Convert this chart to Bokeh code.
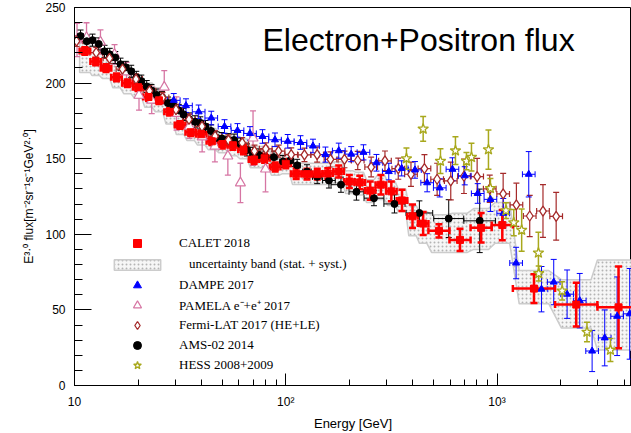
import numpy as np
from bokeh.plotting import figure
from bokeh.models import (ColumnDataSource, Whisker, TeeHead, Legend, LegendItem,
                          Label, FixedTicker, SingleIntervalTicker, Range1d)
from bokeh.embed import file_html
from bokeh.resources import INLINE

# ---------------- data ----------------
# CALET 2018: energy [GeV], E^3 flux, flux error, half bin width [decades]
calet_e = [11.2, 12.6, 14.1, 15.8, 17.8, 20.0, 22.4, 25.1, 28.2, 31.6, 35.5, 39.8, 44.7,
           50.1, 56.2, 63.1, 70.8, 79.4, 89.1, 100, 112, 126, 141, 158, 178, 200, 224,
           251, 282, 316, 355, 398, 447, 531, 668, 841, 1059, 1496, 2371, 3760]
calet_f = [221.2, 214.3, 209.9, 203.8, 199.9, 197.3, 190.8, 188.6, 181.0, 172.3, 167.5,
           166.2, 161.5, 159.7, 158.9, 156.0, 149.5, 150.3, 144.5, 146.7, 140.0, 139.8,
           139.8, 140.2, 141.5, 134.9, 134.3, 128.9, 132.8, 128.4, 122.4, 111.9, 107.1,
           102.3, 96.3, 104.3, 106.1, 64.1, 53.5, 51.7]
calet_ferr = [2.5, 2.5, 2.5, 2.5, 2.5, 2.5, 2.5, 2.5, 2.5, 2.5, 2.5, 2.5, 2.5, 3, 3, 3, 3,
              3, 3, 3, 3.5, 3.5, 3.5, 3.5, 4, 4.3, 4.5, 6, 6.5, 6.5, 7, 7.8, 7.6, 4.4, 7.3,
              9.8, 10, 9.5, 14.5, 27]
calet_hw = [0.025, 0.025, 0.025, 0.025, 0.025, 0.025, 0.025, 0.025, 0.025, 0.025, 0.025,
            0.025, 0.025, 0.025, 0.025, 0.025, 0.025, 0.025, 0.025, 0.025, 0.025, 0.025,
            0.025, 0.025, 0.025, 0.025, 0.025, 0.025, 0.025, 0.025, 0.025, 0.025, 0.025,
            0.05, 0.05, 0.05, 0.05, 0.1, 0.1, 0.1]
# CALET uncertainty band (stat. + syst.), lower / upper edge per CALET bin
band_lo = [207, 205, 203, 197, 193, 190, 184, 181, 173, 166, 162, 159, 156, 154, 152, 150,
           144, 144, 139, 140, 133, 133, 133, 133, 134, 127, 126, 121, 123, 119, 115, 99,
           94, 88, 88, 90, 94, 54, 38, 23.5]
band_hi = [229, 224, 219, 213, 209, 205, 200, 197, 190, 182, 176, 174, 170, 167, 166, 163,
           158, 158, 152, 153, 147, 147, 147, 147, 148, 142, 141, 136, 139, 135, 130, 119,
           115, 113, 114, 117, 121, 76, 70, 83]

# DAMPE 2017
dampe_e = [29.5, 33.7, 38.7, 44.4, 51.3, 59.1, 67.7, 77.6, 88.9, 102.2, 117.4, 134.5,
           154.1, 178.2, 204, 233.2, 268.7, 307.3, 353.7, 408.8, 467, 535.6, 615.1, 703.3,
           810.3, 930.5, 1070, 1231, 1413, 1623, 1855, 2146, 2463, 2819, 3234, 3702, 4246]
dampe_f = [188.6, 185.1, 181.0, 176.9, 171.3, 168.7, 166.7, 164.7, 162.5, 161.5, 160.7,
           158.4, 152.7, 155.3, 153.0, 154.2, 147.3, 141.5, 143.6, 142.6, 134.1, 130.7,
           143.0, 138.7, 127.0, 123.1, 113.9, 81.0, 139.7, 63.7, 68.4, 60.4, 56.1, 22.8,
           31.5, 45.8, 47.4]
dampe_ferr = [4.5, 4.5, 4.5, 4.5, 4.5, 4.5, 4.5, 4.5, 4.5, 4.5, 4.5, 4.5, 5, 5, 5, 5, 5.5,
              5.5, 5, 5.5, 6, 6, 7.6, 6, 6.5, 8, 9.8, 10.4, 15, 15, 15, 16, 18, 13.6, 18.5,
              26, 30]
dampe_hw = [0.03] * 37

# PAMELA e- + e+ 2017
pamela_e = [10.28, 11.4, 13.27, 15.47, 17.63, 20.2, 23.2, 26.6, 30.4, 35.0, 40.2, 46.2,
            53.2, 61.0, 70.0, 80.2]
pamela_f = [228.5, 230.1, 227.2, 219.0, 207.3, 191.9, 188.6, 197.3, 179.9, 171.4, 164.3,
            158.2, 151.7, 134.0, 163.6, 143.1]
pamela_ferr = [11, 9.8, 8, 6.5, 6.5, 9.8, 8.8, 11, 11, 8, 9.8, 10.3, 12.5, 13, 18, 15]

# Fermi-LAT 2017 (HE+LE)
fermi_e = [10.22, 12.67, 14.64, 16.87, 19.55, 22.64, 26.09, 30.22, 34.83, 40.13, 46.29,
           53.56, 62.2, 71.1, 80.4, 92.4, 106.1, 122.6, 140.8, 162.8, 189.6, 219.1, 253.7,
           294.8, 340.8, 391.4, 453.3, 520.6, 603.9, 697.4, 805, 923.5, 1069, 1235, 1428,
           1650, 1905]
fermi_f = [227.7, 220.1, 216.4, 209.3, 202.7, 194.9, 190.4, 182.5, 176.0, 171.4, 164.9,
           162.3, 160.4, 155.0, 156.5, 155.0, 152.7, 152.5, 152.7, 149.5, 149.5, 148.8,
           144.5, 148.6, 143.4, 139.7, 143.5, 136.4, 135.3, 138.4, 138.2, 130.1, 126.7,
           119.5, 112.1, 115.4, 111.9]
fermi_ferr = [3.5, 3.5, 3.5, 3.5, 3.5, 3.5, 3.5, 3.5, 3.5, 3.5, 3.5, 3.5, 3.5, 4, 4, 4,
              4.5, 4.5, 5, 5, 5.5, 6, 6.5, 6.5, 7, 8, 9.2, 10.6, 12.5, 11.4, 12, 9, 13.6,
              14.3, 13.6, 17.4, 15.8]
fermi_hw = [0.03] * 37

# AMS-02 2014
ams_e = [10.68, 11.43, 12.17, 13.02, 13.87, 14.68, 15.6, 16.51, 17.49, 18.55, 19.61,
         20.71, 21.97, 23.14, 24.52, 25.95, 27.71, 29.32, 31.16, 32.81, 34.83, 37.19,
         39.39, 41.69, 44.26, 46.99, 49.9, 53.3, 56.9, 61.1, 65.5, 70.0, 74.7, 80.2, 87.9,
         97.0, 105.2, 113.2, 126, 140.8, 160.1, 182.5, 216, 261.5, 327, 429, 590.7, 828]
ams_f = [231.1, 227.7, 228.4, 225.9, 221.0, 219.0, 216.9, 212.5, 210.4, 207.8, 203.8,
         201.3, 197.7, 195.1, 192.1, 190.4, 186.8, 185.1, 181.9, 179.3, 176.3, 174.4, 173.7,
         171.3, 168.4, 163.8, 163.3, 162.6, 162.3, 159.7, 155.8, 153.5, 152.5, 150.9, 151.0,
         148.1, 148.8, 145.6, 141.5, 138.0, 135.6, 132.8, 128.1, 123.9, 120.1, 114.1, 110.4,
         108.9]
ams_ferr = [4, 4, 4, 4, 4, 4, 4, 4, 4, 4, 4, 4, 4, 4, 4, 4, 4, 4, 4, 4, 4, 4, 4, 4, 4,
            4, 4, 4, 4, 4, 4, 4, 4, 4, 4, 4, 4, 4, 4.5, 4.5, 5, 5, 5.5, 5, 6, 8, 12.5, 21]
ams_hw = [0.013, 0.013, 0.013, 0.013, 0.013, 0.013, 0.013, 0.013, 0.013, 0.013, 0.013,
          0.013, 0.013, 0.013, 0.013, 0.013, 0.013, 0.013, 0.013, 0.013, 0.013, 0.013,
          0.013, 0.013, 0.013, 0.015, 0.015, 0.015, 0.015, 0.015, 0.015, 0.015, 0.015,
          0.015, 0.015, 0.015, 0.015, 0.015, 0.02, 0.022, 0.03, 0.047, 0.035, 0.047, 0.05,
          0.063, 0.071, 0.075]

# HESS 2008+2009
hess_e = [372.6, 447, 539.8, 635.6, 716.6, 756.8, 910.8, 930.5, 1102, 1200, 1308, 1570,
          1575, 2033, 2665, 3442]
hess_f = [150.1, 169.7, 148.4, 155.3, 148.4, 151.0, 156.0, 130.4, 115.7, 107.7, 102.8,
          87.7, 74.1, 62.6, 35.4, 23.5]
hess_ferr = [7, 8.2, 8.2, 9.2, 5.7, 9.2, 13, 6.5, 5.2, 8.7, 14, 13.6, 5, 6, 6.5, 7.6]

# axes
x_major_ticks = [10, 100, 1000]
x_tick_labels = ["10", "10²", "10³"]
x_minor_ticks = [20, 30, 40, 50, 60, 70, 80, 90, 200, 300, 400, 500, 600, 700, 800, 900,
                 2000, 3000, 4000]

# ---------------- figure ----------------
p = figure(width=631, height=433, x_axis_type="log",
           x_range=Range1d(10, 4330), y_range=Range1d(0, 250),
           output_backend="svg", toolbar_location=None,
           min_border_left=74, min_border_right=0, min_border_top=7, min_border_bottom=42)
p.xgrid.visible = False
p.ygrid.visible = False
p.outline_line_color = "black"
p.outline_line_alpha = 1.0
p.outline_line_width = 1
p.background_fill_color = "white"
p.border_fill_color = "white"

RED = "#ff0000"
BLUE = "#0000ff"
PINK = "#d675a3"
FERMI = "#a52a2a"
OLIVE = "#a8a81c"

# uncertainty band (stepped polygon over the CALET bins)
be = np.asarray(calet_e, float)
bhw = np.asarray(calet_hw, float)
fac = np.full(len(be), 0.7)
fac[0] = 1.0
fac[-1] = 1.0
xl = be * 10 ** (-fac * bhw)
xr = be * 10 ** (fac * bhw)
bx = np.ravel(np.column_stack([xl, xr]))
bup = np.repeat(np.asarray(band_hi, float), 2)
blo = np.repeat(np.asarray(band_lo, float), 2)
band_r = p.patch(np.concatenate([bx, bx[::-1]]), np.concatenate([bup, blo[::-1]]),
                 fill_color="#f6f6f6", line_color="#cccccc", line_width=1.5,
                 hatch_pattern="dot", hatch_color="#b4b4b4", hatch_scale=4,
                 hatch_weight=0.7, level="image")


def draw_err(e, f, ferr, hw, color, lw, cap):
    e = np.asarray(e, float)
    f = np.asarray(f, float)
    ferr = np.asarray(ferr, float)
    d = dict(x=e, y=f, ylo=f - ferr, yhi=f + ferr)
    if hw is not None:
        hw = np.asarray(hw, float)
        d["xlo"] = e * 10 ** (-hw)
        d["xhi"] = e * 10 ** hw
    src = ColumnDataSource(d)
    p.add_layout(Whisker(source=src, base="x", lower="ylo", upper="yhi",
                         dimension="height", line_color=color, line_width=lw,
                         level="underlay",
                         lower_head=TeeHead(size=cap, line_color=color, line_width=lw),
                         upper_head=TeeHead(size=cap, line_color=color, line_width=lw)))
    if hw is not None:
        p.add_layout(Whisker(source=src, base="y", lower="xlo", upper="xhi",
                             dimension="width", line_color=color, line_width=lw,
                             level="underlay",
                             lower_head=TeeHead(size=cap, line_color=color, line_width=lw),
                             upper_head=TeeHead(size=cap, line_color=color, line_width=lw)))
    return src


draw_err(pamela_e, pamela_f, pamela_ferr, None, PINK, 1.3, 6)
draw_err(ams_e, ams_f, ams_ferr, ams_hw, "black", 1, 6)
draw_err(fermi_e, fermi_f, fermi_ferr, fermi_hw, FERMI, 1.2, 6)
draw_err(dampe_e, dampe_f, dampe_ferr, dampe_hw, BLUE, 1, 6)
draw_err(hess_e, hess_f, hess_ferr, None, OLIVE, 1.5, 6)
draw_err(calet_e, calet_f, calet_ferr, calet_hw, RED, 2.5, 7)

pamela_r = p.scatter(pamela_e, pamela_f, marker="triangle", size=10,
                     fill_color="white", line_color=PINK, line_width=1.2)
ams_r = p.scatter(ams_e, ams_f, marker="circle", size=7,
                  fill_color="black", line_color="black")
fermi_r = p.scatter(fermi_e, fermi_f, marker="diamond", size=10,
                    fill_color="white", line_color=FERMI, line_width=1.3)
dampe_r = p.scatter(dampe_e, dampe_f, marker="triangle", size=7,
                    fill_color=BLUE, line_color=BLUE)
hess_r = p.scatter(hess_e, hess_f, marker="star", size=11,
                   fill_color="white", line_color=OLIVE, line_width=1.3)
calet_r = p.scatter(calet_e, calet_f, marker="square", size=7,
                    fill_color=RED, line_color=RED)

# ---------------- axes ----------------
p.xaxis.ticker = FixedTicker(ticks=x_major_ticks, minor_ticks=x_minor_ticks)
p.xaxis.major_label_overrides = dict(zip(x_major_ticks, x_tick_labels))
p.yaxis.ticker = SingleIntervalTicker(interval=50, num_minor_ticks=5)

p.xaxis.axis_label = "Energy [GeV]"
p.yaxis.axis_label = "E³·⁰ flux[m⁻²sr⁻¹s⁻¹GeV²·⁰]"

for ax in (p.xaxis[0], p.yaxis[0]):
    ax.axis_line_color = "black"
    ax.major_tick_line_color = "black"
    ax.minor_tick_line_color = "black"
    ax.major_tick_out = 0
    ax.minor_tick_out = 0
    ax.major_label_text_font = "Liberation Sans"
    ax.major_label_text_font_size = "12px"
    ax.major_label_text_color = "black"
    ax.axis_label_text_font = "Liberation Sans"
    ax.axis_label_text_font_size = "13px"
    ax.axis_label_text_font_style = "normal"
    ax.axis_label_text_color = "black"
    ax.major_label_standoff = 9

p.yaxis.axis_label_text_font_size = "12px"
p.xaxis.major_tick_in = 12
p.xaxis.minor_tick_in = 6
p.xaxis.axis_label_standoff = 4
p.yaxis.major_tick_in = 17
p.yaxis.minor_tick_in = 8
p.yaxis.axis_label_standoff = 6

# ---------------- title ----------------
p.add_layout(Label(x=77.6, y=228.5, text="Electron+Positron flux",
                   text_font="Liberation Sans", text_font_size="32px",
                   text_color="black", text_align="left", text_baseline="alphabetic"))

# ---------------- legend ----------------
common = dict(glyph_width=58, padding=0, margin=0, background_fill_alpha=0,
              border_line_alpha=0, label_text_font="Liberation Serif",
              label_text_font_size="13px", label_text_color="black")
leg1 = Legend(items=[LegendItem(label="CALET 2018", renderers=[calet_r])],
              location=(34, 132), glyph_height=20, label_height=20, label_standoff=13,
              spacing=0, **common)
leg2 = Legend(items=[LegendItem(label="uncertainty band (stat. + syst.)",
                                renderers=[band_r])],
              location=(34, 113), glyph_height=13, label_height=13, label_standoff=23,
              spacing=0, **common)
leg3 = Legend(items=[LegendItem(label="DAMPE 2017", renderers=[dampe_r]),
                     LegendItem(label="PAMELA e⁻+e⁺ 2017", renderers=[pamela_r]),
                     LegendItem(label="Fermi-LAT 2017 (HE+LE)", renderers=[fermi_r]),
                     LegendItem(label="AMS-02 2014", renderers=[ams_r]),
                     LegendItem(label="HESS 2008+2009", renderers=[hess_r])],
              location=(34, 10), glyph_height=20, label_height=20, label_standoff=13,
              spacing=0, **common)
for lg in (leg1, leg2, leg3):
    p.add_layout(lg)

open("out.html", "w").write(file_html(p, INLINE))
